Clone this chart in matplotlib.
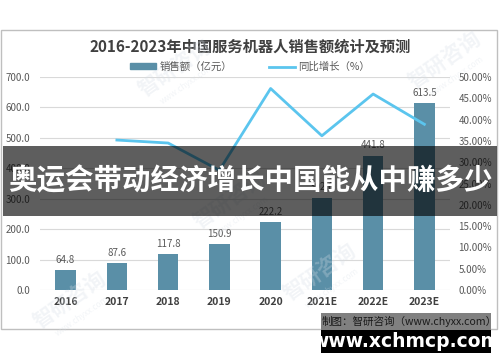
import matplotlib
matplotlib.use('Agg')
import matplotlib.pyplot as plt
from matplotlib.patches import Rectangle
from matplotlib.lines import Line2D
from matplotlib.patches import Patch
import numpy as np

years = ['2016', '2017', '2018', '2019', '2020', '2021E', '2022E', '2023E']
sales = [64.8, 87.6, 117.8, 150.9, 222.2, 302.6, 441.8, 613.5]
growth_years = ['2017', '2018', '2019', '2020', '2021E', '2022E', '2023E']
growth = [35.2, 34.5, 28.1, 47.3, 36.2, 46.0, 38.9]
left_ticks = [0, 100, 200, 300, 400, 500, 600, 700]
right_ticks = [0, 5, 10, 15, 20, 25, 30, 35, 40, 45, 50]

title = '2016-2023年中国服务机器人销售额统计及预测'
legend_bar = '销售额（亿元）'
legend_line = '同比增长（%）'
banner = '奥运会带动经济增长中国能从中赚多少'
source = '制图：智研咨询（www.chyxx.com）'
site = 'www.xchmcp.com'

plt.rcParams['font.family'] = ['Noto Sans CJK SC', 'DejaVu Sans']

W, H = 500, 362
fig = plt.figure(figsize=(W / 100, H / 100), dpi=100)
fig.patch.set_facecolor('white')

def fx(px):
    return px / W

def fy(py):
    return 1 - py / H

ax = fig.add_axes([fx(40), fy(290), fx(450) - fx(40), fy(77) - fy(290)])
x = np.arange(len(years))
bar_color = '#5a8fa7'
line_color = '#5bc5ee'
ax.bar(x, sales, width=0.4, color=bar_color, zorder=2)
for xi, v in zip(x, sales):
    ax.annotate(f'{v:.1f}', (xi, v), xytext=(0, 4), textcoords='offset points',
                ha='center', va='bottom', fontsize=7, color='#595959')
ax.set_xlim(-0.5, 7.5)
ax.set_ylim(0, 700)
ax.set_yticks(left_ticks)
ax.set_yticklabels([f'{v:.1f}' for v in left_ticks])
ax.set_xticks(x)
ax.set_xticklabels(years, fontweight='bold', fontsize=7.5, color='#404040')
ax.grid(axis='y', color='#d9d9d9', lw=0.8)
ax.set_axisbelow(True)
for s in ax.spines.values():
    s.set_visible(False)
ax.tick_params(axis='y', length=0, colors='#595959', labelsize=7, pad=7)
ax.tick_params(axis='x', length=0, pad=5)

ax2 = ax.twinx()
gx = [years.index(y) for y in growth_years]
ax2.plot(gx, growth, color=line_color, lw=2, zorder=3)
ax2.set_ylim(0, 50)
ax2.set_yticks(right_ticks)
ax2.set_yticklabels([f'{v:.2f}%' for v in right_ticks])
for s in ax2.spines.values():
    s.set_visible(False)
ax2.tick_params(axis='y', length=0, colors='#595959', labelsize=7, pad=6)

fig.text(0.5, fy(47), title, ha='center', va='center', fontsize=11,
         fontweight='bold', color='#404040')

handles = [Patch(color=bar_color), Line2D([0], [0], color=line_color, lw=2)]
fig.legend(handles, [legend_bar, legend_line], loc='center',
           bbox_to_anchor=(0.5, fy(67)), ncol=2, frameon=False, fontsize=7.5,
           handlelength=2.5, handleheight=0.5, columnspacing=3.5,
           labelcolor='#595959', handletextpad=0.3)

# watermarks
for (cx, cy) in [(175, 68), (445, 60), (70, 300), (320, 272), (230, 200)]:
    fig.text(fx(cx), fy(cy), '智研咨询', rotation=35, ha='center', va='center',
             fontsize=15, color='#d5dde6', alpha=0.3, fontweight='bold', zorder=5)
    fig.text(fx(cx + 12), fy(cy + 16), 'www.chyxx.com', rotation=35, ha='center',
             va='center', fontsize=6, color='#d5dde6', alpha=0.3, zorder=5)

# frame
fig.add_artist(Rectangle((fx(1), fy(329)), fx(496), 299 / H, fill=False,
                         edgecolor='#bfbfbf', lw=1, transform=fig.transFigure, zorder=1))

# banner
fig.add_artist(Rectangle((fx(3), fy(216)), fx(494), 70 / H, facecolor='black',
                         alpha=0.63, edgecolor='none', transform=fig.transFigure, zorder=10))
fig.text(0.5, fy(181), banner, ha='center', va='center', fontsize=20.5,
         fontweight='bold', color='white', zorder=11)

# source and site boxes
fig.add_artist(Rectangle((fx(321), fy(330)), fx(170), 17 / H, facecolor='#808080',
                         edgecolor='none', transform=fig.transFigure, zorder=10))
fig.text(fx(322), fy(321.5), source, ha='left', va='center', fontsize=7.6,
         color='#1a1a1a', zorder=11)
fig.add_artist(Rectangle((fx(321), fy(353)), fx(170), 23 / H, facecolor='black',
                         edgecolor='none', transform=fig.transFigure, zorder=10))
fig.text(fx(406), fy(341.5), site, ha='center', va='center', fontsize=13.5,
         fontweight='bold', color='white', family='DejaVu Sans', zorder=11)

fig.savefig('out.png', dpi=100)
